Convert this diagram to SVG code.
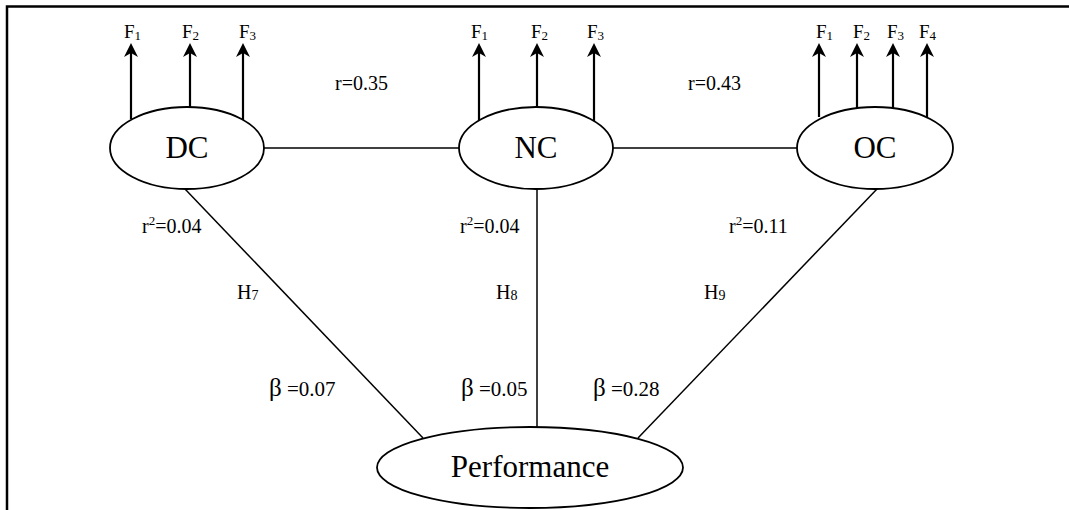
<svg xmlns="http://www.w3.org/2000/svg" width="1069" height="510" viewBox="0 0 1069 510">
<style>
text{font-family:"Liberation Serif","Times New Roman",serif;fill:#000}
.node{font-size:31px;text-anchor:middle}
.f{font-size:19px}
.lbl{font-size:20px}
.beta{font-size:21px}
.el{fill:#fff;stroke:#000;stroke-width:1.8}
.con{stroke:#000;stroke-width:1.5;fill:none}
.arr{stroke:#000;stroke-width:2.2;fill:none;marker-end:url(#ah)}
</style>
<defs>
<marker id="ah" markerUnits="userSpaceOnUse" markerWidth="20" markerHeight="20" refX="0" refY="0" orient="auto" overflow="visible">
<path d="M4,0 L-10,-7 L-6,0 L-10,7 Z" fill="#000"/>
</marker>
</defs>
<path d="M7,510 L7,6.5 L1069,6.5" stroke="#000" stroke-width="2.5" fill="none"/>
<g id="connectors">
<line class="con" x1="264" y1="148" x2="459" y2="148"/>
<line class="con" x1="613" y1="148" x2="797" y2="148"/>
<line class="con" x1="185" y1="189" x2="423" y2="438"/>
<line class="con" x1="537" y1="189" x2="537" y2="427"/>
<line class="con" x1="877" y1="189" x2="638" y2="438"/>
<line class="arr" x1="131" y1="119" x2="131" y2="47"/>
<line class="arr" x1="190" y1="108" x2="190" y2="47"/>
<line class="arr" x1="243" y1="121" x2="243" y2="47"/>
<line class="arr" x1="479" y1="121" x2="479" y2="47"/>
<line class="arr" x1="537" y1="108" x2="537" y2="47"/>
<line class="arr" x1="594" y1="121" x2="594" y2="47"/>
<line class="arr" x1="819" y1="117" x2="819" y2="47"/>
<line class="arr" x1="857" y1="108" x2="857" y2="47"/>
<line class="arr" x1="893" y1="108" x2="893" y2="47"/>
<line class="arr" x1="927" y1="117" x2="927" y2="47"/>
</g>
<g id="DC">
<ellipse class="el" cx="187" cy="148" rx="77" ry="41"/>
<text class="node" x="187" y="158">DC</text>
<text class="f" x="124" y="38">F<tspan font-size="13" dy="2">1</tspan></text>
<text class="f" x="182" y="38">F<tspan font-size="13" dy="2">2</tspan></text>
<text class="f" x="239" y="38">F<tspan font-size="13" dy="2">3</tspan></text>
</g>
<g id="NC">
<ellipse class="el" cx="536" cy="148" rx="77" ry="41"/>
<text class="node" x="536" y="158">NC</text>
<text class="f" x="471" y="38">F<tspan font-size="13" dy="2">1</tspan></text>
<text class="f" x="531" y="38">F<tspan font-size="13" dy="2">2</tspan></text>
<text class="f" x="587" y="38">F<tspan font-size="13" dy="2">3</tspan></text>
</g>
<g id="OC">
<ellipse class="el" cx="875" cy="148" rx="78" ry="41"/>
<text class="node" x="875" y="158">OC</text>
<text class="f" x="816" y="38">F<tspan font-size="13" dy="2">1</tspan></text>
<text class="f" x="853" y="38">F<tspan font-size="13" dy="2">2</tspan></text>
<text class="f" x="887" y="38">F<tspan font-size="13" dy="2">3</tspan></text>
<text class="f" x="919" y="38">F<tspan font-size="13" dy="2">4</tspan></text>
</g>
<g id="Performance">
<ellipse class="el" cx="530" cy="467.5" rx="153" ry="40.5"/>
<text class="node" x="530" y="477" font-size="32">Performance</text>
</g>
<g id="labels">
<text class="lbl" x="335" y="90">r=0.35</text>
<text class="lbl" x="688" y="90">r=0.43</text>
<text class="lbl" x="142" y="233">r<tspan font-size="13" dy="-8">2</tspan><tspan dy="8">=0.04</tspan></text>
<text class="lbl" x="460" y="233">r<tspan font-size="13" dy="-8">2</tspan><tspan dy="8">=0.04</tspan></text>
<text class="lbl" x="729" y="233">r<tspan font-size="13" dy="-8">2</tspan><tspan dy="8">=0.11</tspan></text>
<text class="lbl" x="237" y="299">H<tspan font-size="14" dy="1">7</tspan></text>
<text class="lbl" x="496" y="299">H<tspan font-size="14" dy="1">8</tspan></text>
<text class="lbl" x="704" y="299">H<tspan font-size="14" dy="1">9</tspan></text>
<text class="beta" x="269" y="396"><tspan font-size="25">β</tspan> =0.07</text>
<text class="beta" x="461" y="396"><tspan font-size="25">β</tspan> =0.05</text>
<text class="beta" x="593" y="396"><tspan font-size="25">β</tspan> =0.28</text>
</g>
</svg>
